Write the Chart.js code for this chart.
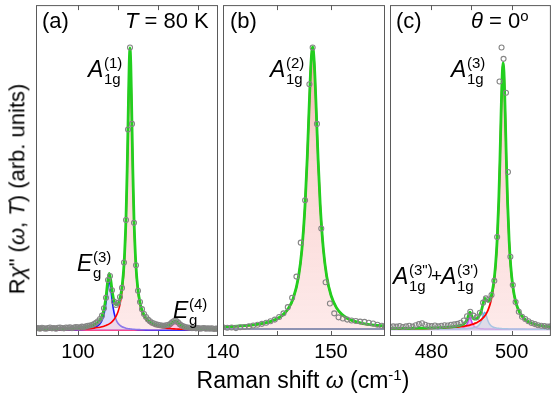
<!DOCTYPE html>
<html><head><meta charset="utf-8">
<script src="https://cdn.jsdelivr.net/npm/chart.js@4.4.1/dist/chart.umd.min.js"></script>
<style>
html,body{margin:0;padding:0;background:#fff;}
#wrap{position:relative;width:556px;height:394px;overflow:hidden;font-family:'Liberation Sans',Arial,Helvetica,sans-serif;color:#000;}
#wrap canvas{position:absolute;left:0;top:0;}
.t{position:absolute;left:0;top:0;line-height:0;white-space:nowrap;transform-origin:0 0;}
</style></head><body>
<div id="wrap">
<canvas id="ca" width="556" height="394"></canvas>
<canvas id="cb" width="556" height="394"></canvas>
<canvas id="cc" width="556" height="394"></canvas>
</div>
<script>
// ---------------- DATA ----------------
// Panel (a): 90-135 cm-1
const aTicks = [100, 110, 120, 130];
const aTickLabels = [100, 120];
const aFitX = [89.5,90,95,100,102,104,105,105.5,106,106.5,107,107.4,107.8,108.2,108.6,109,109.5,110,110.5,111,111.5,112,112.3,112.6,112.8,113,113.2,113.4,113.7,114,114.5,115,115.5,116,117,118,119,120,121,122,123,123.5,124,124.5,125,126,127,128,130,132,135];
const aTotal = [0.0046,0.0048,0.0061,0.0092,0.0125,0.0203,0.0294,0.0375,0.051,0.0747,0.1183,0.169,0.2011,0.176,0.1327,0.1043,0.0908,0.0941,0.1128,0.1527,0.2321,0.397,0.571,0.8012,0.9408,0.9984,0.94,0.7997,0.5683,0.393,0.2255,0.1427,0.0979,0.0713,0.0435,0.03,0.0226,0.0186,0.0165,0.0168,0.0214,0.0266,0.0322,0.0326,0.0266,0.0154,0.0107,0.0086,0.0066,0.0057,0.0048];
const aA1g = [0.0011,0.0012,0.0020,0.0037,0.0052,0.0078,0.0098,0.0111,0.0128,0.0148,0.0173,0.0198,0.0229,0.0268,0.0317,0.0381,0.0492,0.0657,0.092,0.1366,0.219,0.386,0.561,0.792,0.932,0.99,0.932,0.792,0.561,0.386,0.219,0.1366,0.092,0.0657,0.0381,0.0247,0.0173,0.0128,0.0098,0.0078,0.0063,0.0057,0.0052,0.0048,0.0044,0.0037,0.0032,0.0028,0.0022,0.0018,0.0013];
const aEg3 = [0.0004,0.0005,0.0009,0.0023,0.0041,0.0093,0.0164,0.0232,0.035,0.0567,0.0978,0.146,0.175,0.146,0.0978,0.063,0.0383,0.0251,0.0175,0.0128,0.0098,0.0077,0.0067,0.0059,0.0055,0.0051,0.0047,0.0044,0.004,0.0036,0.0031,0.0027,0.0024,0.0021,0.0017,0.0014,0.0011,0.0010,0.0008,0.0007,0.0006,0.0006,0.0005,0.0005,0.0005,0.0004,0.0004,0.0004,0.0003,0.0003,0.0002];
const aEg4 = [0.0001,0.0001,0.0002,0.0002,0.0002,0.0002,0.0002,0.0002,0.0002,0.0002,0.0002,0.0002,0.0002,0.0002,0.0002,0.0002,0.0003,0.0003,0.0003,0.0003,0.0003,0.0003,0.0003,0.0003,0.0003,0.0003,0.0003,0.0003,0.0003,0.0004,0.0004,0.0004,0.0005,0.0005,0.0007,0.0009,0.0012,0.0018,0.0029,0.0053,0.0115,0.0173,0.0235,0.0243,0.0187,0.0083,0.0041,0.0024,0.0011,0.0006,0.0003];
const aBgX = [89.5, 135];
const aBg = [0.002, 0.002];
const aPtsX = [89.5,90,90.5,91,91.5,92,92.5,93,93.5,94,94.5,95,95.5,96,96.5,97,97.5,98,98.5,99,99.5,100,100.5,101,101.5,102,102.5,103,103.5,104,104.5,105,105.5,106,106.5,107,107.5,108,108.5,109,109.5,110,110.5,111,111.5,112,112.5,113,113.5,114,114.5,115,115.5,116,116.5,117,117.5,118,118.5,119,119.5,120,120.5,121,121.5,122,122.5,123,123.5,124,124.5,125,125.5,126,126.5,127,127.5,128,128.5,129,129.5,130,130.5,131,131.5,132,132.5,133,133.5,134,134.5,135];
const aPtsY = [0.007,0.008,0.006,0.009,0.007,0.006,0.008,0.010,0.007,0.008,0.006,0.009,0.010,0.008,0.007,0.010,0.009,0.011,0.008,0.010,0.012,0.011,0.010,0.013,0.012,0.014,0.016,0.017,0.019,0.022,0.027,0.032,0.040,0.052,0.078,0.115,0.178,0.192,0.142,0.102,0.090,0.097,0.118,0.150,0.240,0.390,0.710,1.000,0.730,0.380,0.230,0.140,0.100,0.075,0.058,0.047,0.038,0.032,0.027,0.024,0.021,0.020,0.018,0.017,0.016,0.018,0.019,0.022,0.028,0.033,0.034,0.028,0.021,0.016,0.013,0.011,0.010,0.009,0.008,0.009,0.007,0.008,0.006,0.007,0.008,0.006,0.007,0.006,0.007,0.005,0.006,0.006];

// Panel (b): 140-155 cm-1
const bTicks = [140, 145, 150, 155];
const bTickLabels = [140, 150];
const bFitX = [140,141,142,143,144,144.5,145,145.5,146,146.5,147,147.3,147.6,147.8,148,148.15,148.3,148.45,148.6,148.8,149,149.3,149.6,150,150.5,151,151.5,152,153,154,155];
const bA1g = [0.0115,0.0131,0.0155,0.0194,0.0263,0.0318,0.0399,0.0525,0.0735,0.1116,0.1906,0.2823,0.4434,0.609,0.812,0.946,1.001,0.946,0.812,0.609,0.4434,0.2823,0.1906,0.123,0.0793,0.0559,0.042,0.0332,0.023,0.0176,0.0144];
const bTotal = [0.0125,0.0141,0.0165,0.0204,0.0273,0.0328,0.0409,0.0535,0.0745,0.1126,0.1916,0.2833,0.4444,0.61,0.813,0.947,1.002,0.947,0.813,0.61,0.4444,0.2833,0.1916,0.124,0.0803,0.0569,0.043,0.0342,0.024,0.0186,0.0154];
const bBgX = [140, 155];
const bBg = [0.005, 0.005];
const bPtsX = [140.0,140.4,140.8,141.2,141.6,142.0,142.4,142.8,143.2,143.6,144.0,144.4,144.8,145.2,145.6,146.0,146.4,146.8,147.2,147.6,148.0,148.3,148.7,149.1,149.5,149.9,150.3,150.7,151.1,151.5,151.9,152.3,152.7,153.1,153.5,153.9,154.3,154.7,155.0];
const bPtsY = [0.011,0.009,0.010,0.008,0.011,0.012,0.014,0.017,0.020,0.023,0.027,0.032,0.038,0.047,0.060,0.082,0.115,0.190,0.310,0.460,0.870,1.000,0.730,0.360,0.170,0.095,0.060,0.046,0.042,0.038,0.035,0.033,0.031,0.030,0.027,0.024,0.020,0.016,0.014];

// Panel (c): 470-510 cm-1
const cTicks = [480, 490, 500];
const cTickLabels = [480, 500];
const cFitX = [469.7,472,474,476,478,480,482,484,486,487,488,488.5,489,489.3,489.6,489.9,490.2,490.6,491,491.5,492,492.5,492.9,493.3,493.7,494.1,494.6,495,495.5,496,496.4,496.8,497.1,497.4,497.7,497.9,498.1,498.4,498.7,499,499.4,499.8,500.3,501,502,503,504,506,508,510];
const cTotal = [0.0064,0.0067,0.007,0.0075,0.0079,0.0086,0.0097,0.0113,0.0142,0.0167,0.0221,0.0279,0.0409,0.0547,0.0644,0.0576,0.047,0.04,0.0394,0.0433,0.0527,0.071,0.094,0.1126,0.1091,0.1025,0.1085,0.1254,0.1634,0.2302,0.3181,0.4563,0.6028,0.7744,0.9141,0.947,0.9138,0.7736,0.6015,0.4544,0.3151,0.226,0.1569,0.1024,0.0634,0.0437,0.0323,0.0207,0.0152,0.0121];
const cA1g = [0.0053,0.0055,0.0058,0.0062,0.0066,0.0072,0.0081,0.0093,0.0113,0.0126,0.0145,0.0156,0.0169,0.0178,0.0188,0.0199,0.0212,0.023,0.0253,0.0286,0.0328,0.0382,0.0437,0.0505,0.0593,0.0707,0.0904,0.113,0.155,0.224,0.313,0.452,0.599,0.771,0.911,0.944,0.911,0.771,0.599,0.452,0.313,0.224,0.155,0.1007,0.0618,0.0422,0.031,0.0195,0.014,0.011];
const cA1g3p = [0.0041,0.0041,0.0041,0.0042,0.0042,0.0042,0.0043,0.0045,0.0047,0.005,0.0054,0.0056,0.006,0.0063,0.0066,0.0071,0.0078,0.0089,0.0105,0.0139,0.0205,0.034,0.052,0.064,0.052,0.034,0.0205,0.0149,0.011,0.0089,0.0078,0.007,0.0066,0.0062,0.0059,0.0058,0.0056,0.0054,0.0053,0.0052,0.005,0.0049,0.0048,0.0046,0.0045,0.0044,0.0043,0.0042,0.0042,0.0041];
const cA1g3pp = [0.004,0.0041,0.0041,0.0041,0.0041,0.0042,0.0043,0.0045,0.0052,0.0061,0.0092,0.0137,0.025,0.0376,0.046,0.0376,0.025,0.0151,0.0106,0.0078,0.0064,0.0058,0.0053,0.0051,0.0048,0.0048,0.0046,0.0045,0.0044,0.0043,0.0043,0.0043,0.0042,0.0042,0.0042,0.0042,0.0042,0.0042,0.0042,0.0042,0.0041,0.0041,0.0041,0.0041,0.0041,0.0041,0.004,0.004,0.004,0.004];
const cPtsX = [469.7,470.5,471.3,472.1,472.9,473.7,474.5,475.3,476.1,476.9,477.7,478.5,479.3,480.1,480.9,481.7,482.5,483.3,484.1,484.9,485.7,486.5,487.3,488.1,488.9,489.7,490.5,491.3,492.1,492.9,493.6,494.3,495.0,495.7,496.4,497.0,497.5,498.0,498.6,499.1,499.7,500.3,501.0,501.8,502.6,503.4,504.2,505.0,505.8,506.6,507.4,508.2,509.0,509.7];
const cPtsY = [0.012,0.014,0.013,0.015,0.012,0.014,0.016,0.013,0.018,0.022,0.025,0.020,0.016,0.015,0.017,0.014,0.016,0.018,0.017,0.020,0.021,0.023,0.027,0.035,0.050,0.066,0.052,0.046,0.062,0.098,0.113,0.108,0.125,0.175,0.330,0.880,1.000,0.960,0.840,0.560,0.260,0.160,0.100,0.066,0.048,0.040,0.032,0.026,0.022,0.018,0.016,0.015,0.013,0.014];

// ---------------- LAYOUT ----------------
const W = 556, H = 394, TOP = 5, BOTTOM = 336, AXIS_H = 30;
const FONT = "'Liberation Sans', Arial, Helvetica, sans-serif";
const panes = {
  a: {left: 36, right: 218, min: 89.5, max: 135, ticks: aTicks, labels: aTickLabels},
  b: {left: 223, right: 385, min: 140, max: 155, ticks: bTicks, labels: bTickLabels},
  c: {left: 390, right: 553, min: 469.7, max: 509.8, ticks: cTicks, labels: cTickLabels}
};

const framePlugin = {
  id: 'frame',
  afterDraw(chart) {
    const {ctx, chartArea: a, scales: {x}} = chart;
    ctx.save();
    ctx.strokeStyle = '#5a5a5a';
    ctx.lineWidth = 1;
    ctx.strokeRect(a.left + 0.5, a.top + 0.5, a.right - a.left - 1, a.bottom - a.top - 1);
    x.ticks.forEach(t => {
      const px = Math.round(x.getPixelForValue(t.value)) + 0.5;
      if (px <= a.left + 2 || px >= a.right - 2) return;
      ctx.beginPath();
      ctx.moveTo(px, a.bottom); ctx.lineTo(px, a.bottom - 5);
      ctx.moveTo(px, a.top); ctx.lineTo(px, a.top + 5);
      ctx.stroke();
    });
    ctx.restore();
  }
};

function redGrad(c) {
  const ch = c.chart, a = ch.chartArea;
  if (!a) return 'rgba(250,200,200,0.5)';
  const g = ch.ctx.createLinearGradient(0, a.top, 0, a.bottom);
  g.addColorStop(0, 'rgba(236,128,116,0.9)');
  g.addColorStop(0.4, 'rgba(246,184,178,0.62)');
  g.addColorStop(1, 'rgba(252,214,214,0.5)');
  return g;
}
function fitLine(xs, ys, color, width, order, fillColor) {
  return {
    data: xs.map((x, i) => ({x: x, y: ys[i]})),
    borderColor: color, borderWidth: width, pointRadius: 0,
    cubicInterpolationMode: 'monotone',
    fill: fillColor ? 'origin' : false,
    backgroundColor: fillColor || 'rgba(0,0,0,0)',
    order: order
  };
}
function dots(xs, ys) {
  return {
    data: xs.map((x, i) => ({x: x, y: ys[i]})),
    showLine: false, pointRadius: 2.5, pointBorderWidth: 1.1,
    pointBorderColor: '#858585', pointBackgroundColor: 'rgba(0,0,0,0)',
    order: 0
  };
}
function makeChart(id, p, datasets) {
  return new Chart(document.getElementById(id), {
    type: 'line',
    data: {datasets: datasets},
    options: {
      responsive: false, animation: false, devicePixelRatio: 1, events: [],
      layout: {padding: {left: p.left, right: W - p.right, top: TOP, bottom: H - BOTTOM - AXIS_H}},
      plugins: {legend: {display: false}, tooltip: {enabled: false}},
      scales: {
        x: {
          type: 'linear', min: p.min, max: p.max,
          grid: {display: false, drawTicks: false}, border: {display: false},
          afterBuildTicks: s => { s.ticks = p.ticks.map(v => ({value: v})); },
          afterFit: s => { s.height = AXIS_H; },
          ticks: {
            autoSkip: false, maxRotation: 0, minRotation: 0, padding: 4, color: '#000',
            font: {family: FONT, size: 20},
            callback: v => p.labels.includes(v) ? String(v) : ''
          }
        },
        y: {display: false, min: -0.02, max: 1.15}
      }
    },
    plugins: [framePlugin]
  });
}

const GREEN = '#22cf1f';
makeChart('ca', panes.a, [
  dots(aPtsX, aPtsY),
  fitLine(aFitX, aTotal, GREEN, 2.8, 1),
  fitLine(aFitX, aA1g, '#ff0000', 1.6, 2, redGrad),
  fitLine(aFitX, aEg3, '#1a1aff', 1.6, 3, 'rgba(120,120,250,0.25)'),
  fitLine(aFitX, aEg4, '#ff2d7a', 1.4, 4, 'rgba(255,120,200,0.4)'),
  fitLine(aBgX, aBg, '#8a20f0', 1.8, 5)
]);
makeChart('cb', panes.b, [
  dots(bPtsX, bPtsY),
  fitLine(bFitX, bTotal, GREEN, 2.8, 1),
  fitLine(bFitX, bA1g, '#ff0000', 1.8, 2, redGrad),
  fitLine(bBgX, bBg, '#1f4f8f', 2, 3)
]);
makeChart('cc', panes.c, [
  dots(cPtsX, cPtsY),
  fitLine(cFitX, cTotal, GREEN, 2.8, 1),
  fitLine(cFitX, cA1g, '#ff0000', 1.8, 2, redGrad),
  fitLine(cFitX, cA1g3p, '#55b4f2', 1.5, 3, 'rgba(110,190,250,0.45)'),
  fitLine(cFitX, cA1g3pp, '#c040f0', 1.5, 4, 'rgba(215,110,245,0.5)')
]);

// ---------------- TEXT ----------------
const wrap = document.getElementById('wrap');
function txt(html, x, base, fs, anchor, rotate) {
  const d = document.createElement('div');
  d.className = 't';
  d.style.fontSize = fs + 'px';
  const dy = -(0.3465 * fs).toFixed(2);
  const ax = anchor === 'middle' ? '-50%' : '0px';
  d.style.transform = 'translate(' + x + 'px,' + base + 'px)' + (rotate ? ' rotate(-90deg)' : '') + ' translate(' + ax + ',' + dy + 'px)';
  d.innerHTML = html;
  wrap.appendChild(d);
  return d;
}
function ann(letter, sup, sub, x, base) {
  txt('<i>' + letter + '</i>', x, base, 23);
  txt(sup, x + 16, base - 8.5, 15);
  txt(sub, x + 16, base + 7.5, 15);
}
// panel labels
txt('(a)', 42, 29, 22);
txt('<i>T</i> = 80 K', 125, 29, 22);
txt('(b)', 230, 29, 22);
txt('(c)', 396, 29, 22);
txt('<i>θ</i> = 0<span style="position:relative;top:-7px;font-size:15px">o</span>', 471, 29, 22);
// peak annotations
ann('A', '(1)', '1g', 88, 76.5);
ann('E', '(3)', 'g', 77, 271);
ann('E', '(4)', 'g', 173, 318);
ann('A', '(2)', '1g', 270, 76.5);
ann('A', '(3)', '1g', 451, 76.5);
ann('A', '(3")', '1g', 393, 283.5);
txt('+', 431, 283, 19);
ann('A', "(3')", '1g', 441, 283.5);
// axis titles
txt('R<i>χ</i>" (<i>ω</i>, <i>T</i>) (arb. units)', 25, 189, 22, 'middle', true);
txt('Raman shift <i>ω</i> (cm<span style="position:relative;top:-8px;font-size:15px">-1</span>)', 303, 388, 23, 'middle');
</script>
</body></html>
